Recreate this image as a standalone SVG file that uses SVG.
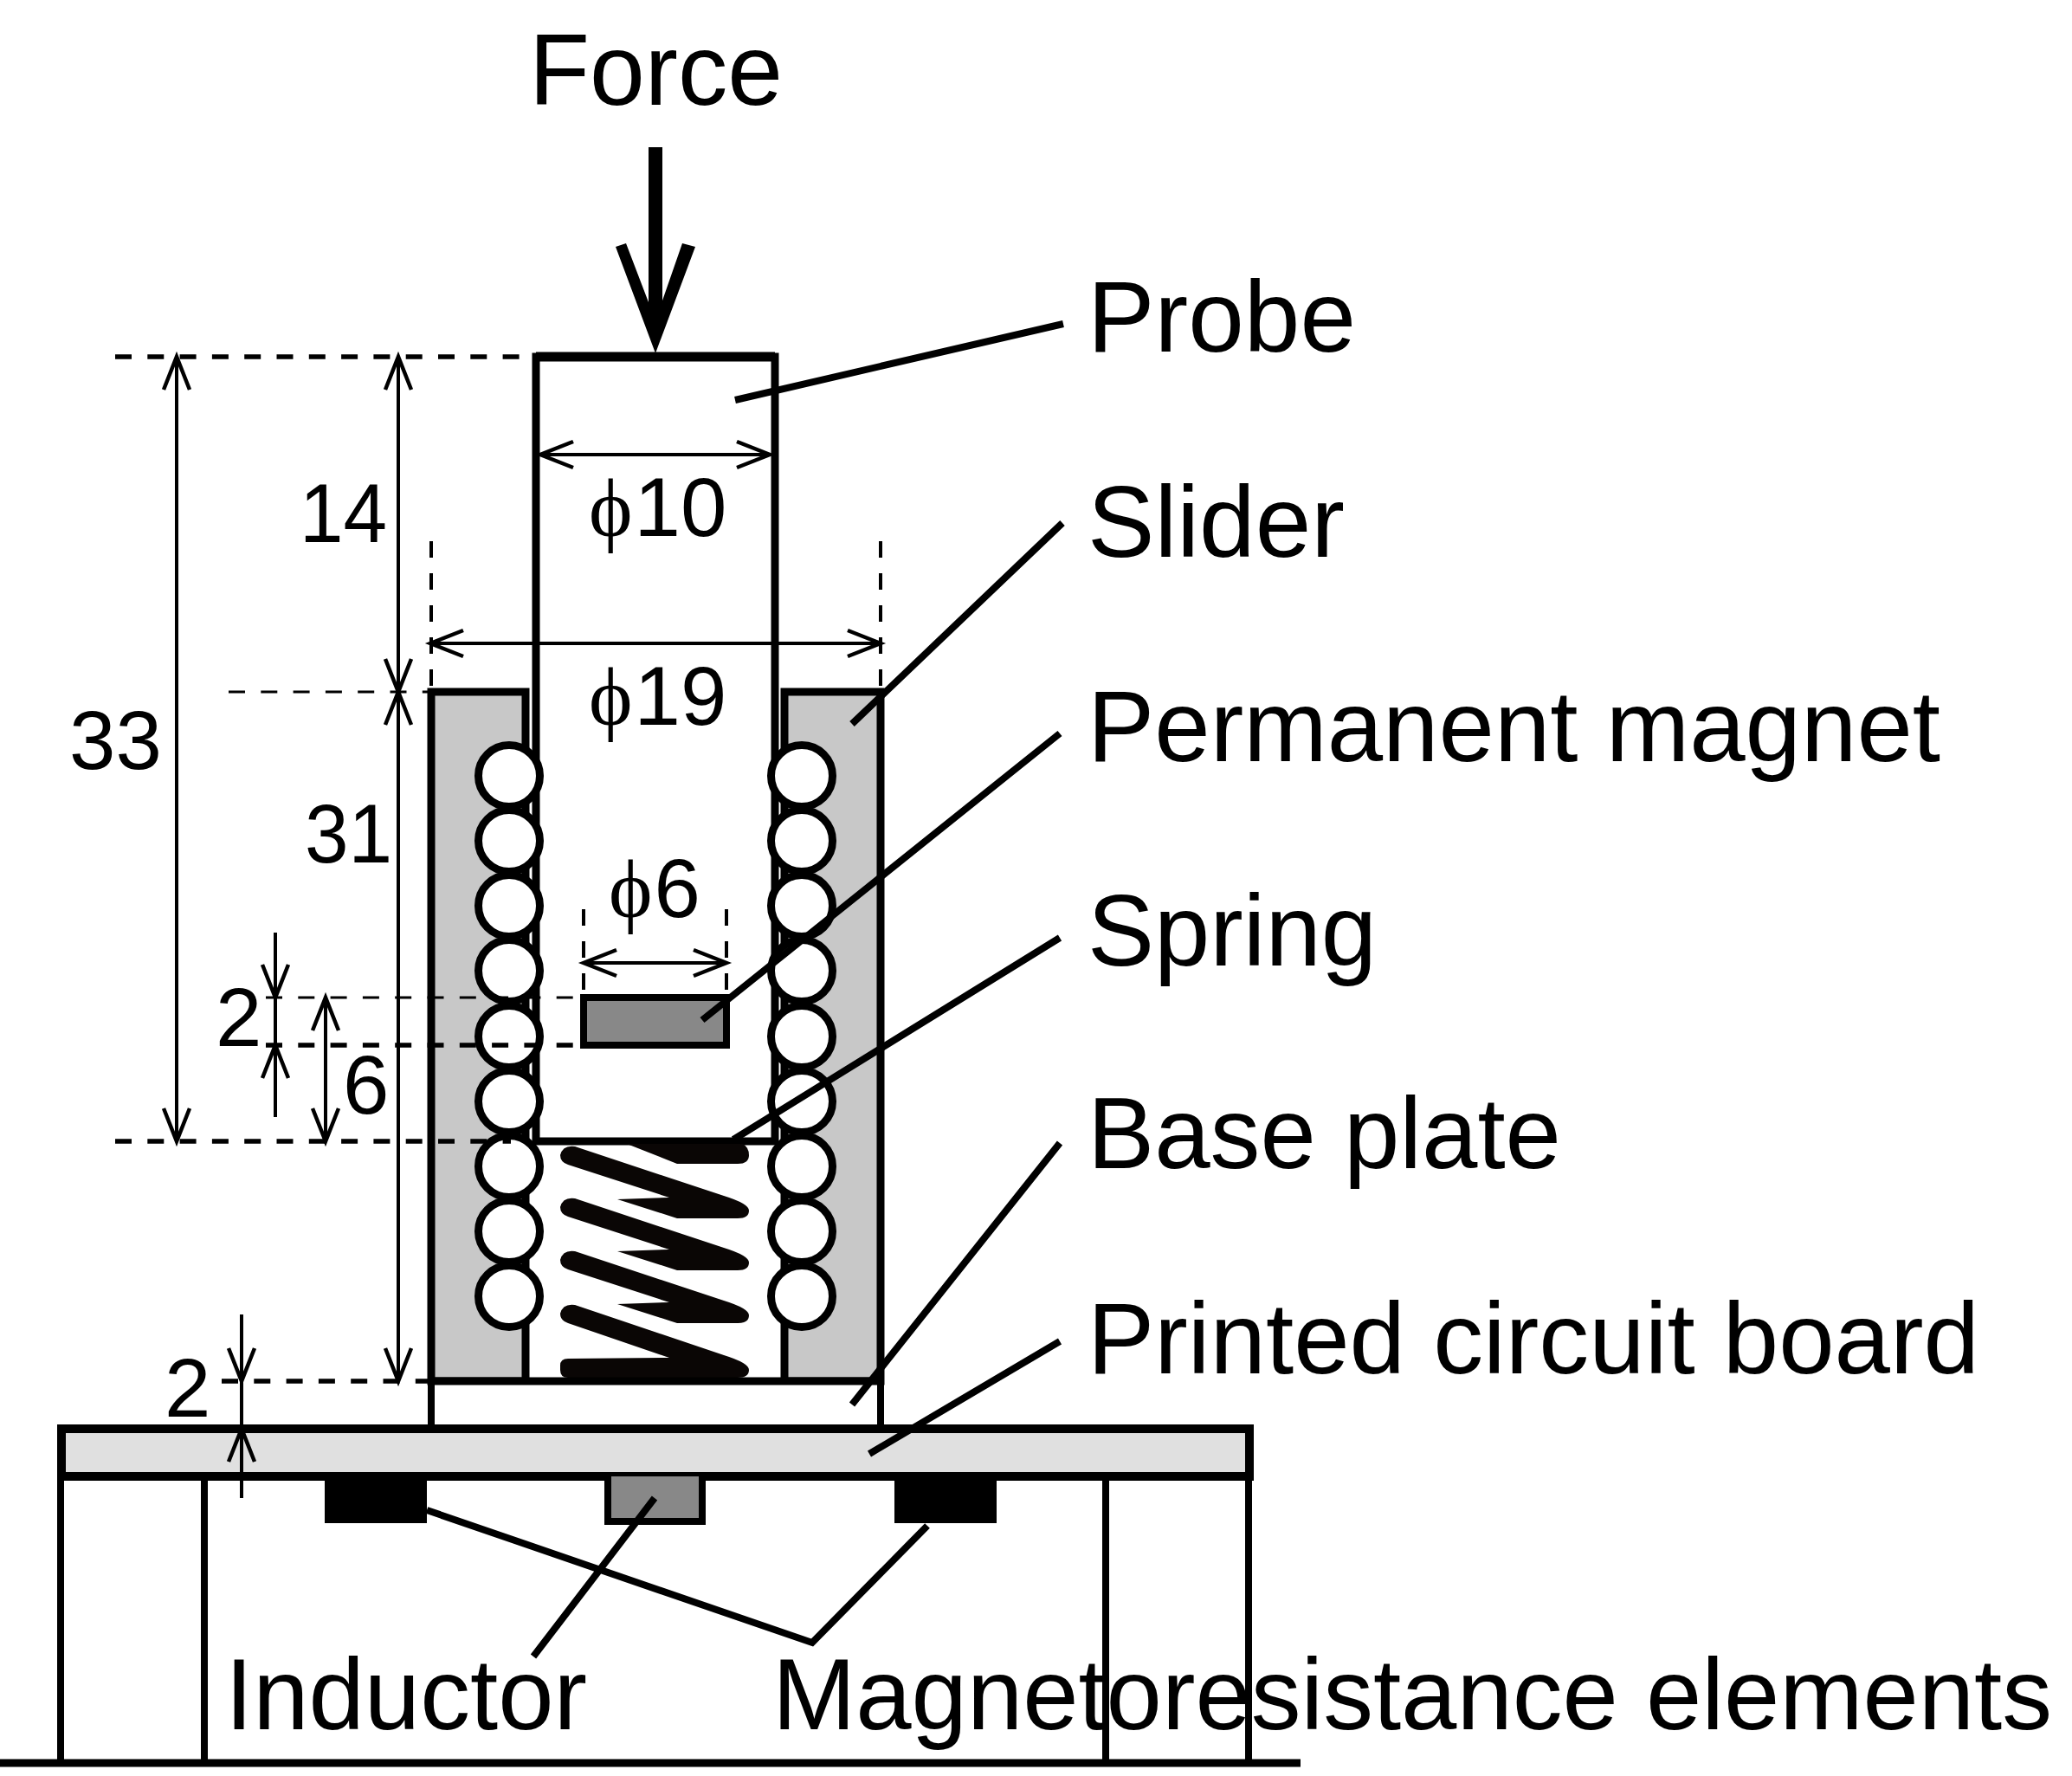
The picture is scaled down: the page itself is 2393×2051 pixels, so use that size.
<svg xmlns="http://www.w3.org/2000/svg" width="2393" height="2051" viewBox="0 0 2393 2051">
<style>
text{font-family:"Liberation Sans",Arial,sans-serif;fill:#000}
.lab{font-size:116px}
.dim{font-size:96px}
.phi{font-family:"Liberation Serif","DejaVu Serif",serif}
.o{fill:none;stroke:#000;stroke-width:8}
.lead{fill:none;stroke:#000;stroke-width:8}
.d{fill:none;stroke:#000;stroke-width:4}
.dash{fill:none;stroke:#000;stroke-width:3;stroke-dasharray:19 18.3}
.dash2{fill:none;stroke:#000;stroke-width:5.5;stroke-dasharray:19 18.3}
.dashv{fill:none;stroke:#000;stroke-width:4;stroke-dasharray:19 18}
.coil{fill:#fff;stroke:#000;stroke-width:9}
.sp{fill:#0a0605}
</style>
<defs>
<marker id="a" markerUnits="userSpaceOnUse" markerWidth="50" markerHeight="40" refX="41" refY="20" orient="auto-start-reverse"><path d="M3 5L41 20L3 35" fill="none" stroke="#000" stroke-width="4.5"/></marker>
<path id="st" d="M664 1384L836 1441Q865 1450 865 1458Q865 1467 852 1467L782 1467L713 1445L773 1443L656 1405Q647 1402 647 1394Q650 1382 664 1384Z"/>
</defs>
<rect width="2393" height="2051" fill="#fff"/>
<g id="ground"><path d="M0 2036H1502" class="o" style="stroke-width:9"/></g>
<g id="legs"><path d="M70 1705V2035M236 1705V2035M1277 1705V2035M1442 1705V2035" class="o"/></g>
<g id="slider">
<path d="M498 1595V799H607V1595ZM906 1595V799H1017V1595Z" fill="#c8c8c8" stroke="#000" stroke-width="9"/>
</g>
<g id="probe"><path d="M619 1318V412H895V1318Z" fill="#fff" stroke="#000" stroke-width="9"/><path d="M619 412H895" class="o" style="stroke-width:11"/></g>
<g id="spring">
<path class="sp" d="M724 1321L782 1344H852Q865 1344 865 1334Q865 1325 858 1321Z"/>
<use href="#st" class="sp" transform="translate(0,-60)"/>
<use href="#st" class="sp"/>
<use href="#st" class="sp" transform="translate(0,61)"/>
<path class="sp" d="M664 1507L836 1565Q865 1574 865 1582Q865 1591 852 1591L656 1591Q647 1591 647 1582L647 1577Q647 1569 656 1569L773 1568L656 1528Q647 1525 647 1517Q650 1505 664 1507Z"/>
</g>
<g id="magnet"><rect x="674" y="1152" width="165" height="55" fill="#888" stroke="#000" stroke-width="8"/></g>
<g id="coils">
<circle class="coil" cx="588" cy="896" r="35.5"/><circle class="coil" cx="588" cy="971" r="35.5"/><circle class="coil" cx="588" cy="1046" r="35.5"/><circle class="coil" cx="588" cy="1121" r="35.5"/><circle class="coil" cx="588" cy="1197" r="35.5"/><circle class="coil" cx="588" cy="1272" r="35.5"/><circle class="coil" cx="588" cy="1347" r="35.5"/><circle class="coil" cx="588" cy="1422" r="35.5"/><circle class="coil" cx="588" cy="1497" r="35.5"/>
<circle class="coil" cx="926" cy="896" r="35.5"/><circle class="coil" cx="926" cy="971" r="35.5"/><circle class="coil" cx="926" cy="1046" r="35.5"/><circle class="coil" cx="926" cy="1121" r="35.5"/><circle class="coil" cx="926" cy="1197" r="35.5"/><circle class="coil" cx="926" cy="1272" r="35.5"/><circle class="coil" cx="926" cy="1347" r="35.5"/><circle class="coil" cx="926" cy="1422" r="35.5"/><circle class="coil" cx="926" cy="1497" r="35.5"/>
</g>
<g id="base-plate"><rect x="498" y="1595" width="519" height="55" fill="#fff" stroke="#000" stroke-width="8"/><path d="M494 1595H1021" class="o" style="stroke-width:9"/></g>
<g id="pcb"><rect x="71" y="1650" width="1372" height="55" fill="#e0e0e0" stroke="#000" stroke-width="10"/></g>
<g id="mr-left"><rect x="375" y="1700" width="118" height="59" fill="#000"/></g>
<g id="mr-right"><rect x="1033" y="1700" width="118" height="59" fill="#000"/></g>
<g id="inductor"><path d="M702 1705V1757H811V1705" fill="#888" stroke="#000" stroke-width="8"/></g>
<g id="connectors">
<path class="lead" d="M1228 374L849 462M1227 604L984 836M1224 847L811 1178M1224 1083L847 1316M1224 1320L984 1622M1224 1549L1004 1679M493 1744L938 1897L1071 1762M756 1730L616 1913"/>
<path d="M749 170H765V375H757L749 375Z"/>
<path d="M711 285L723 281L757 370L788 281L803 285L757 408Z"/>
<path class="dash2" d="M133 412H618M133 1318H590"/>
<path class="dash" d="M264 799H498M307 1152H674"/>
<path class="dash2" d="M307 1207H674"/>
<path class="dash2" d="M256 1595H498"/>
<path class="dashv" d="M498 625V795M1017 625V795M674 1050V1150M839 1050V1150"/>
<path class="d" marker-start="url(#a)" marker-end="url(#a)" d="M204 412V1318"/>
<path class="d" marker-start="url(#a)" marker-end="url(#a)" d="M460 412V799"/>
<path class="d" marker-start="url(#a)" marker-end="url(#a)" d="M460 799V1595"/>
<path class="d" marker-start="url(#a)" marker-end="url(#a)" d="M376 1152V1318"/>
<path class="d" marker-start="url(#a)" marker-end="url(#a)" d="M624 525H889"/>
<path class="d" marker-start="url(#a)" marker-end="url(#a)" d="M497 743H1017"/>
<path class="d" marker-start="url(#a)" marker-end="url(#a)" d="M674 1112H839"/>
<path class="d" d="M318 1077V1290"/>
<path class="d" marker-end="url(#a)" d="M318 1100V1152"/>
<path class="d" marker-end="url(#a)" d="M318 1260V1207"/>
<path class="d" d="M279 1518V1730"/>
<path class="d" marker-end="url(#a)" d="M279 1540V1595"/>
<path class="d" marker-end="url(#a)" d="M279 1700V1650"/>
</g>
<g id="labels">
<text class="lab" x="611" y="121" textLength="293" lengthAdjust="spacingAndGlyphs">Force</text>
<text class="lab" x="1256" y="406" textLength="310" lengthAdjust="spacingAndGlyphs">Probe</text>
<text class="lab" x="1256" y="643" textLength="297" lengthAdjust="spacingAndGlyphs">Slider</text>
<text class="lab" x="1256" y="879" textLength="985" lengthAdjust="spacingAndGlyphs">Permanent magnet</text>
<text class="lab" x="1256" y="1115" textLength="334" lengthAdjust="spacingAndGlyphs">Spring</text>
<text class="lab" x="1256" y="1349" textLength="547" lengthAdjust="spacingAndGlyphs">Base plate</text>
<text class="lab" x="1256" y="1586" textLength="1030" lengthAdjust="spacingAndGlyphs">Printed circuit board</text>
<text class="lab" x="260" y="1997" textLength="418" lengthAdjust="spacingAndGlyphs">Inductor</text>
<text class="lab" x="892" y="1997" textLength="1478" lengthAdjust="spacingAndGlyphs">Magnetoresistance elements</text>
<text class="dim" x="346" y="626" textLength="101" lengthAdjust="spacingAndGlyphs">14</text>
<text class="dim" x="80" y="888">33</text>
<text class="dim" x="352" y="996" textLength="101" lengthAdjust="spacingAndGlyphs">31</text>
<text class="dim" x="249" y="1208">2</text>
<text class="dim" x="396" y="1286">6</text>
<text class="dim" x="190" y="1636">2</text>
<text class="dim" x="680" y="619"><tspan class="phi">ϕ</tspan><tspan dx="2">10</tspan></text>
<text class="dim" x="680" y="837"><tspan class="phi">ϕ</tspan><tspan dx="2">19</tspan></text>
<text class="dim" x="703" y="1059"><tspan class="phi">ϕ</tspan><tspan dx="2">6</tspan></text>
</g>
</svg>
